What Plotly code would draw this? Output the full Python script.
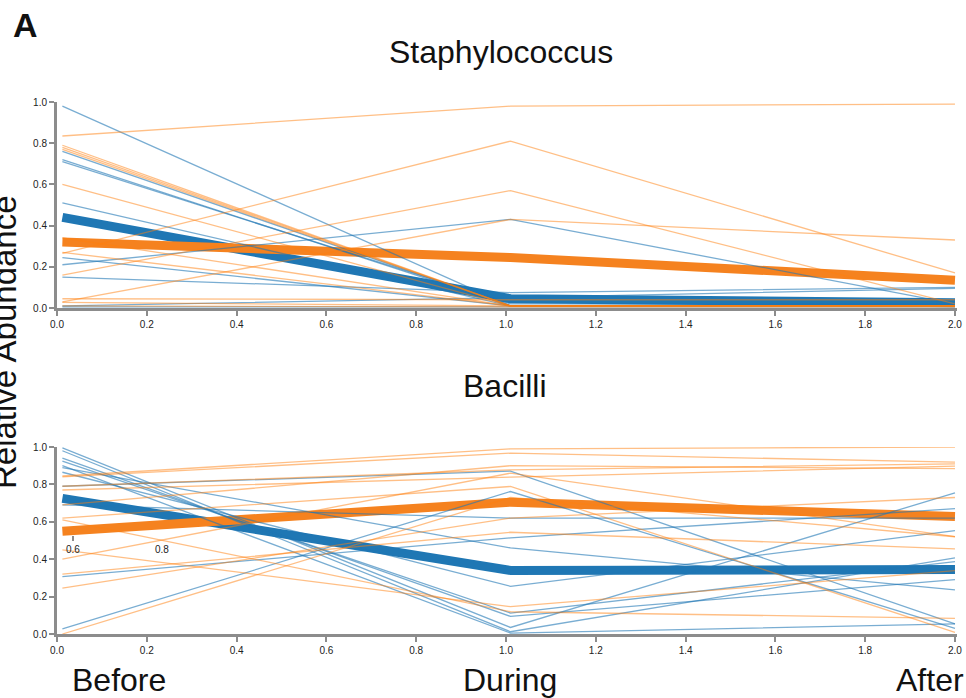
import plotly.graph_objects as go

# x positions of the three time points (as drawn)
time_x = [0.012, 1.01, 2.0]
phase_labels = ["Before", "During", "After"]

# ---- Staphylococcus (top) ----
staph_blue = [
    [0.98, 0.01, 0.01],
    [0.76, 0.01, 0.02],
    [0.72, 0.01, 0.01],
    [0.71, 0.02, 0.02],
    [0.51, 0.01, 0.01],
    [0.245, 0.01, 0.01],
    [0.21, 0.43, 0.02],
    [0.15, 0.075, 0.10],
    [0.01, 0.05, 0.095],
    [0.005, 0.005, 0.005],
]
staph_orange = [
    [0.835, 0.98, 0.99],
    [0.79, 0.01, 0.01],
    [0.78, 0.01, 0.01],
    [0.77, 0.01, 0.01],
    [0.60, 0.01, 0.01],
    [0.34, 0.01, 0.01],
    [0.27, 0.01, 0.01],
    [0.265, 0.81, 0.17],
    [0.16, 0.57, 0.02],
    [0.045, 0.04, 0.04],
    [0.03, 0.43, 0.33],
    [0.027, 0.01, 0.01],
    [0.01, 0.005, 0.005],
]
staph_blue_mean = [0.44, 0.045, 0.025]
staph_orange_mean = [0.32, 0.245, 0.135]

# ---- Bacilli (bottom) ----
bac_blue = [
    [0.995, 0.035, 0.755],
    [0.98, 0.012, 0.407],
    [0.94, 0.094, 0.291],
    [0.925, 0.112, 0.387],
    [0.90, 0.005, 0.054],
    [0.89, 0.46, 0.236],
    [0.865, 0.255, 0.553],
    [0.79, 0.871, 0.054],
    [0.69, 0.62, 0.62],
    [0.307, 0.514, 0.67],
    [0.027, 0.762, 0.03],
]
bac_orange = [
    [0.845, 0.99, 1.0],
    [0.84, 0.967, 0.919],
    [0.79, 0.878, 0.91],
    [0.77, 0.839, 0.898],
    [0.69, 0.90, 0.884],
    [0.62, 0.789, 0.009],
    [0.61, 0.119, 0.084],
    [0.45, 0.146, 0.339],
    [0.40, 0.86, 0.521],
    [0.32, 0.544, 0.455],
    [0.245, 0.62, 0.73],
    [0.0, 0.73, 0.52],
]
bac_blue_mean = [0.725, 0.34, 0.345]
bac_orange_mean = [0.55, 0.705, 0.628]

y_ticks = [0.0, 0.2, 0.4, 0.6, 0.8, 1.0]
x_ticks = [0.0, 0.2, 0.4, 0.6, 0.8, 1.0, 1.2, 1.4, 1.6, 1.8, 2.0]

BLUE = "#1f77b4"
ORANGE = "#f5821f"
THIN_BLUE = "rgba(31,119,180,0.6)"
THIN_ORANGE = "rgba(255,127,14,0.5)"

fig = go.Figure()


def add_panel(xa, ya, blue, orange, bmean, omean):
    fig.add_trace(go.Scatter(x=time_x, y=bmean, mode="lines", xaxis=xa, yaxis=ya,
                             line=dict(color=BLUE, width=9), hoverinfo="skip", showlegend=False))
    fig.add_trace(go.Scatter(x=time_x, y=omean, mode="lines", xaxis=xa, yaxis=ya,
                             line=dict(color=ORANGE, width=9), hoverinfo="skip", showlegend=False))
    for s in blue:
        fig.add_trace(go.Scatter(x=time_x, y=s, mode="lines", xaxis=xa, yaxis=ya,
                                 line=dict(color=THIN_BLUE, width=1.3), hoverinfo="skip", showlegend=False))
    for s in orange:
        fig.add_trace(go.Scatter(x=time_x, y=s, mode="lines", xaxis=xa, yaxis=ya,
                                 line=dict(color=THIN_ORANGE, width=1.3), hoverinfo="skip", showlegend=False))


add_panel("x", "y", staph_blue, staph_orange, staph_blue_mean, staph_orange_mean)
add_panel("x2", "y2", bac_blue, bac_orange, bac_blue_mean, bac_orange_mean)

W, H = 966, 698
FONT = "Liberation Sans, Arial, Helvetica, sans-serif"

axis_common = dict(showgrid=False, zeroline=False, showline=True, linecolor="#8c8c8c", linewidth=3,
                   ticks="outside", tickcolor="#8c8c8c", tickwidth=2, ticklen=5,
                   tickfont=dict(size=10, color="#222", family=FONT), automargin=False)

x_range = [0, 2.0045]
ML, MR = 57, 9

fig.update_layout(
    width=W, height=H,
    margin=dict(l=ML, r=MR, t=0, b=0),
    paper_bgcolor="white", plot_bgcolor="white",
    xaxis=dict(domain=[0, 1], range=x_range, anchor="y", tickvals=x_ticks,
               ticktext=[f"{v:.1f}" for v in x_ticks], **axis_common),
    yaxis=dict(domain=[1 - 308 / H, 1 - 102 / H], range=[0, 1.0], anchor="x", tickvals=y_ticks,
               ticktext=[f"{v:.1f}" for v in y_ticks], **axis_common),
    xaxis2=dict(domain=[0, 1], range=x_range, anchor="y2", tickvals=x_ticks,
                ticktext=[f"{v:.1f}" for v in x_ticks], **axis_common),
    yaxis2=dict(domain=[1 - 634 / H, 1 - 447 / H], range=[0, 1.0], anchor="x2", tickvals=y_ticks,
                ticktext=[f"{v:.1f}" for v in y_ticks], **axis_common),
    font=dict(family=FONT, color="#111"),
)


def to_paper_x(px):
    return (px - ML) / (W - ML - MR)


for text, px, py, size, bold, angle in [
    ("A", 25, 25, 34, True, 0),
    ("Staphylococcus", 501, 52, 32, False, 0),
    ("Bacilli", 505, 386, 32, False, 0),
    ("Before", 119, 680, 32, False, 0),
    ("During", 510, 680, 32, False, 0),
    ("After", 930, 680, 32, False, 0),
    ("Relative Abundance", 4, 342, 33, False, -90),
]:
    fig.add_annotation(text=f"<b>{text}</b>" if bold else text, xref="paper", yref="paper",
                       x=to_paper_x(px), y=1 - py / H, xanchor="center", yanchor="middle",
                       showarrow=False, textangle=angle,
                       font=dict(size=size, family=FONT, color="#111"))

# stray tick labels visible inside the lower panel
for text, px, py in [("0.6", 73, 549), ("0.8", 162, 549)]:
    fig.add_annotation(text=text, xref="paper", yref="paper", x=to_paper_x(px), y=1 - py / H,
                       xanchor="center", yanchor="middle", showarrow=False,
                       font=dict(size=10, family=FONT, color="#222"))
fig.add_shape(type="line", xref="paper", yref="paper", x0=to_paper_x(73), x1=to_paper_x(73),
              y0=1 - 541 / H, y1=1 - 536 / H, line=dict(color="#8c8c8c", width=2))

fig.write_html("out.html", config={"displayModeBar": False},
               post_script="document.body.style.margin='0';document.body.style.overflow='hidden';")
